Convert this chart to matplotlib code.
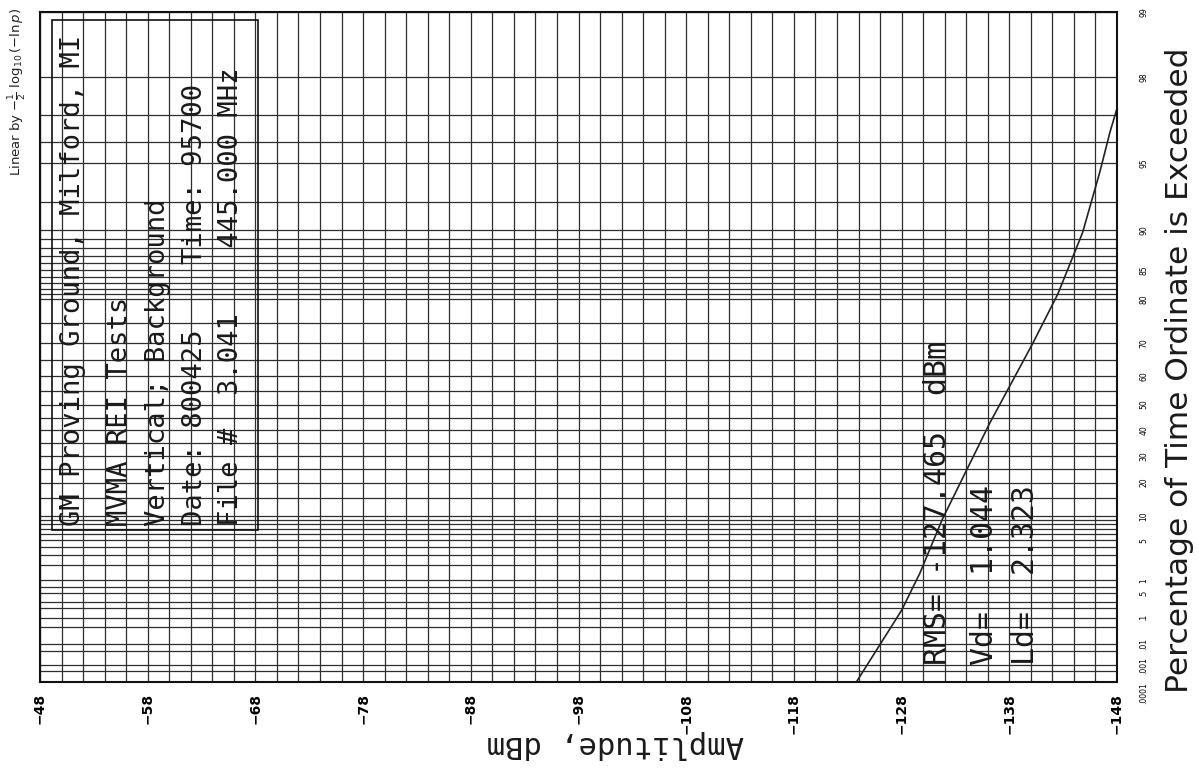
import numpy as np
import matplotlib
matplotlib.use('Agg')
import matplotlib.pyplot as plt
from matplotlib.patches import Rectangle
from matplotlib.ticker import FixedLocator, FixedFormatter

# amplitude (dBm) vs percentage of time the ordinate is exceeded
pct_exceeded = [0.0001, 0.17, 1.4, 9.0, 43.0, 70.0, 81.0, 89.7, 94.5, 96.4, 97.3]
amp_dbm = [-123.8, -128.0, -129.7, -131.75, -136.2, -140.2, -142.5, -144.8, -146.4, -147.35, -148.1]

amp_ticks = [-48, -58, -68, -78, -88, -98, -108, -118, -128, -138, -148]
pct_ticks = [0.0001, 0.001, 0.01, 0.1, 0.5, 1, 5, 10, 20, 30, 40, 50, 60, 70, 80, 85, 90, 95, 98, 99]
pct_tick_labels = ['.0001', '.001', '.01', '.1', '.5', '1', '5', '10', '20', '30', '40', '50',
                   '60', '70', '80', '85', '90', '95', '98', '99']
pct_grid = [0.0005, 0.005, 0.05, 0.2, 0.3, 0.7, 2, 3, 4, 6, 7, 8, 9,
            15, 25, 35, 45, 55, 65, 75, 81, 82, 83, 84, 86, 87, 88, 89, 92.5, 96, 97]

info_lines = ['GM Proving Ground, Milford, MI',
              'MVMA REI Tests',
              'Vertical; Background',
              'Date: 800425    Time: 95700',
              'File #  3.041    445.000 MHz']
stat_lines = ['RMS= -127.465  dBm', 'Vd=  1.044', 'Ld=  2.323']


def fwd(p):
    p = np.clip(np.asarray(p, dtype=float), 1e-9, 99.99999)
    return -0.5 * np.log10(-np.log(p / 100.0))


def inv(y):
    y = np.asarray(y, dtype=float)
    return 100.0 * np.exp(-10.0 ** (-2.0 * y))


fig = plt.figure(figsize=(11.99, 7.69), dpi=100)
ax = fig.add_axes([40 / 1199, 1 - 682 / 769, 1077 / 1199, 670 / 769])

ax.set_yscale('function', functions=(fwd, inv))
ax.set_xlim(-48, -148)
ax.set_ylim(0.0001, 99)

gc = '#2e2e2e'
ax.xaxis.set_major_locator(FixedLocator(amp_ticks))
ax.xaxis.set_minor_locator(FixedLocator(np.arange(-48, -149, -2)))
ax.yaxis.set_major_locator(FixedLocator(pct_ticks))
ax.yaxis.set_major_formatter(FixedFormatter(pct_tick_labels))
ax.yaxis.set_minor_locator(FixedLocator(pct_grid))
ax.yaxis.set_minor_formatter(FixedFormatter([''] * len(pct_grid)))
ax.yaxis.tick_right()
ax.grid(True, which='both', color=gc, lw=0.9)
ax.set_axisbelow(True)

ax.tick_params(axis='x', which='both', length=0, pad=8, labelsize=10, labelrotation=90)
ax.tick_params(axis='y', which='both', length=0, pad=16, labelsize=5.5, labelrotation=90)
for lab in ax.get_xticklabels():
    lab.set_fontweight('bold')
    lab.set_va('top')
ylabs = ax.get_yticklabels()
for lab in ylabs:
    lab.set_va('center')
    lab.set_ha('left')
ylabs[0].set_va('top')  # keep .0001 clear of .001

for s in ax.spines.values():
    s.set_linewidth(1.5)
    s.set_color('#111111')

ax.plot(amp_dbm, pct_exceeded, color='#222222', lw=1.2, clip_on=True)

# header box
ax.add_patch(Rectangle((0.011, 0.227), 0.191, 0.761, transform=ax.transAxes,
                       fill=False, lw=1.2, ec='#111111'))
line_x = [0.0306, 0.0743, 0.1096, 0.1439, 0.1773]
for lx, txt in zip(line_x, info_lines):
    ax.text(lx, 0.233, txt, transform=ax.transAxes, rotation=90, ha='center', va='bottom',
            family='DejaVu Sans Mono', fontsize=19.5, color='#1a1a1a')

stat_x = [0.833, 0.877, 0.915]
for sx, txt in zip(stat_x, stat_lines):
    ax.text(sx, 0.025, txt, transform=ax.transAxes, rotation=90, ha='center', va='bottom',
            family='DejaVu Sans Mono', fontsize=21.5, color='#1a1a1a')

fig.text(18 / 1199, 1 - 8 / 769, r'Linear by $-\frac{1}{2}\ \log_{10}(-\ln p)$',
         rotation=90, ha='center', va='top', fontsize=9.5, color='#222222')
fig.text(1180 / 1199, 1 - 370 / 769, 'Percentage of Time Ordinate is Exceeded',
         rotation=90, ha='center', va='center', fontsize=22.5, color='#1a1a1a')
fig.text(615 / 1199, 1 - 745 / 769, 'Amplitude, dBm', rotation=180, ha='center', va='center',
         family='DejaVu Sans Mono', fontsize=22, color='#1a1a1a')

fig.savefig('out.png', dpi=100, facecolor='white')
